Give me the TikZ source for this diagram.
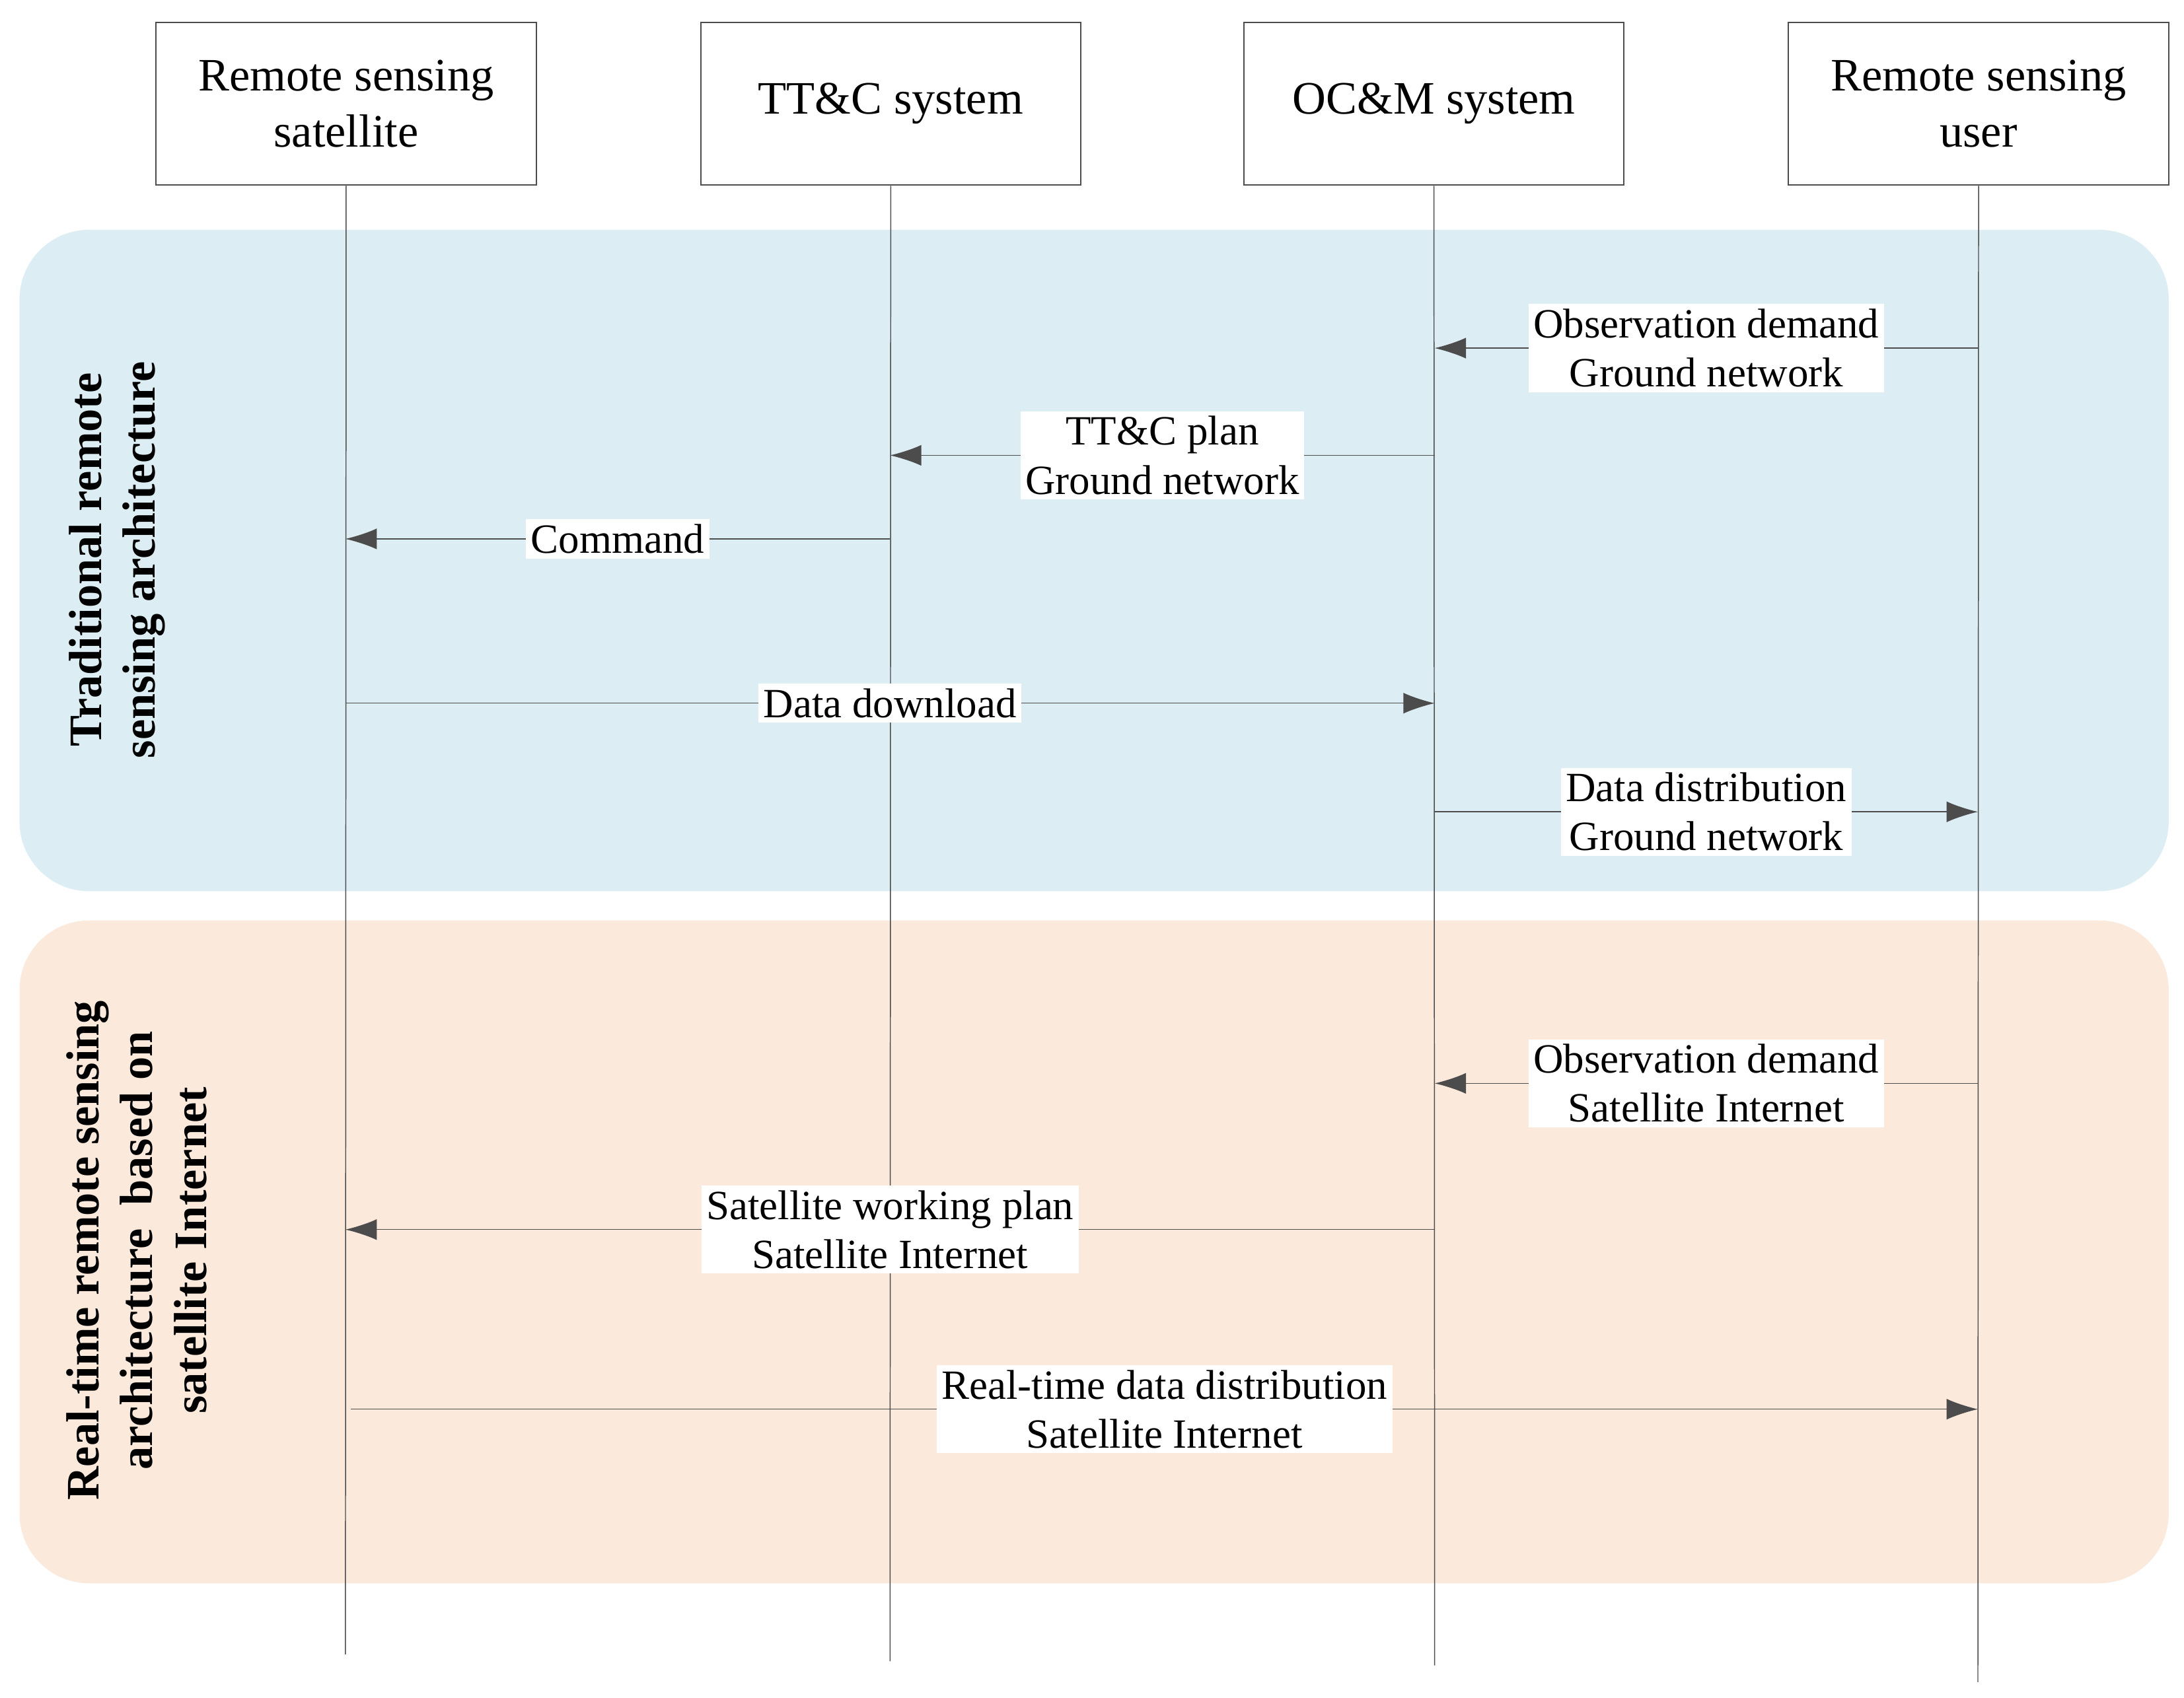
\documentclass[tikz,border=0pt]{standalone}
\usepackage{fontspec}
\setmainfont{Liberation Serif}
\usetikzlibrary{arrows.meta}
\begin{document}
\begin{tikzpicture}[x=0.02cm,y=-0.02cm,
  box/.style={draw=black!70,line width=0.5pt,minimum width=5.46cm,minimum height=2.34cm,align=center,font=\fontsize{19}{23}\selectfont},
  life/.style={draw=black!70,line width=0.4pt},
  msg/.style={draw=black!70,line width=0.4pt,-{Latex[length=0.45cm,width=0.3cm]}},
  lab/.style={fill=white,inner sep=2pt,align=center,font=\fontsize{17}{20}\selectfont},
  side/.style={rotate=90,align=center,font=\bfseries\fontsize{19}{22}\selectfont}]
\useasboundingbox (0,0) rectangle (1568,1219);
\fill[rounded corners=1cm,fill={rgb,255:red,220;green,238;blue,243}] (14,165) rectangle (1557,640);
\fill[rounded corners=1cm,fill={rgb,255:red,251;green,233;blue,220}] (14,661) rectangle (1557,1137);
\node[box] (A) at (248.5,74.5) {Remote sensing\\satellite};
\node[box] (B) at (639.5,74.5) {TT\&C system};
\node[box] (C) at (1029.5,74.5) {OC\&M system};
\node[box] (D) at (1420.5,74.5) {Remote sensing\\user};
\coordinate (Ae) at (248,1188);
\coordinate (Be) at (639,1193);
\coordinate (Ce) at (1030,1196);
\coordinate (De) at (1420,1208);
\draw[life] (A.south) -- (Ae);
\draw[life] (B.south) -- (Be);
\draw[life] (C.south) -- (Ce);
\draw[life] (D.south) -- (De);
\node[side] (L1) at (84,402) {Traditional remote\\sensing architecture};
\node[side] (L2) at (98,898) {Real-time remote sensing\\architecture\ \ based on\\satellite Internet};
\foreach \n/\x/\y in {d1/1420/250,c1/1030/250,c2/1030/327,b2/639/327,b3/639/387,a3/248/387,a4/248/505,c4/1030/505,c5/1030/583,d5/1420/583,d6/1420/778,c6/1030/778,c7/1030/883,a7/248/883,a8/252/1012,d8/1420/1012}
  \coordinate (\n) at (\x,\y);
\draw[msg] (d1) -- (c1) node[lab,pos=0.5] {Observation demand\\Ground network};
\draw[msg] (c2) -- (b2) node[lab,pos=0.5] {TT\&C plan\\Ground network};
\draw[msg] (b3) -- (a3) node[lab,pos=0.5] {Command};
\draw[msg] (a4) -- (c4) node[lab,pos=0.5] {Data download};
\draw[msg] (c5) -- (d5) node[lab,pos=0.5] {Data distribution\\Ground network};
\draw[msg] (d6) -- (c6) node[lab,pos=0.5] {Observation demand\\Satellite Internet};
\draw[msg] (c7) -- (a7) node[lab,pos=0.5] {Satellite working plan\\Satellite Internet};
\draw[msg] (a8) -- (d8) node[lab,pos=0.5] {Real-time data distribution\\Satellite Internet};
\end{tikzpicture}
\end{document}
